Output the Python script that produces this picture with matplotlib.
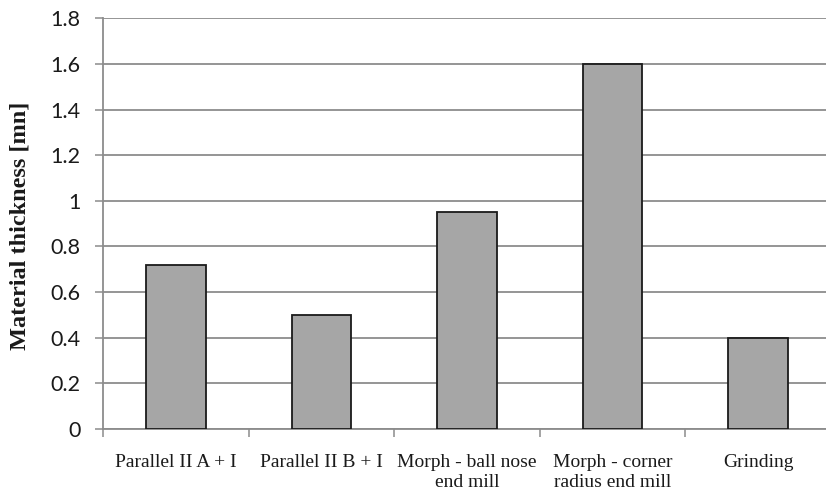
import matplotlib
matplotlib.use("Agg")
import matplotlib.pyplot as plt
import numpy as np

categories = [
    "Parallel II A + I",
    "Parallel II B + I",
    "Morph - ball nose\nend mill",
    "Morph - corner\nradius end mill",
    "Grinding",
]
thickness = [0.72, 0.50, 0.95, 1.60, 0.40]
y_ticks = [0, 0.2, 0.4, 0.6, 0.8, 1.0, 1.2, 1.4, 1.6, 1.8]
y_tick_labels = ["0", "0.2", "0.4", "0.6", "0.8", "1", "1.2", "1.4", "1.6", "1.8"]

W, H = 826, 496
fig = plt.figure(figsize=(W / 100, H / 100), dpi=100)
ax = fig.add_axes([103 / W, 67 / H, 728 / W, 410.7 / H])

x = np.arange(len(categories))
ax.bar(x, thickness, width=0.41, color="#a6a6a6", edgecolor="#1a1a1a",
       linewidth=1.3, zorder=3)

ax.set_xlim(-0.5, len(categories) - 0.5)
ax.set_ylim(0, 1.8)

ax.set_yticks(y_ticks)
ax.set_yticklabels(y_tick_labels, family="Lato", fontsize=15.5, color="#1a1a1a")
ax.grid(axis="y", color="#8c8c8c", linewidth=1.3, zorder=0)
ax.tick_params(axis="y", length=6, width=1.1, color="#8c8c8c", pad=10)

ax.set_xticks(x)
ax.set_xticklabels(categories, family="Liberation Serif", fontsize=14,
                   color="#1a1a1a", linespacing=1.25, va="top")
ax.set_xticks(np.arange(-0.5, len(categories)), minor=True)
ax.tick_params(axis="x", which="major", length=0, pad=18)
ax.tick_params(axis="x", which="minor", length=6, width=1.1, color="#8c8c8c")

for side in ("top", "right"):
    ax.spines[side].set_visible(False)
for side in ("left", "bottom"):
    ax.spines[side].set_color("#8c8c8c")
    ax.spines[side].set_linewidth(1.3)

fig.text(20 / W, (496 - 226) / H, "Material thickness [mn]", rotation=90,
         family="Liberation Serif", fontweight="bold", fontsize=17.5,
         ha="center", va="center", color="#1a1a1a")

fig.savefig("out.png", dpi=100, facecolor="white")
